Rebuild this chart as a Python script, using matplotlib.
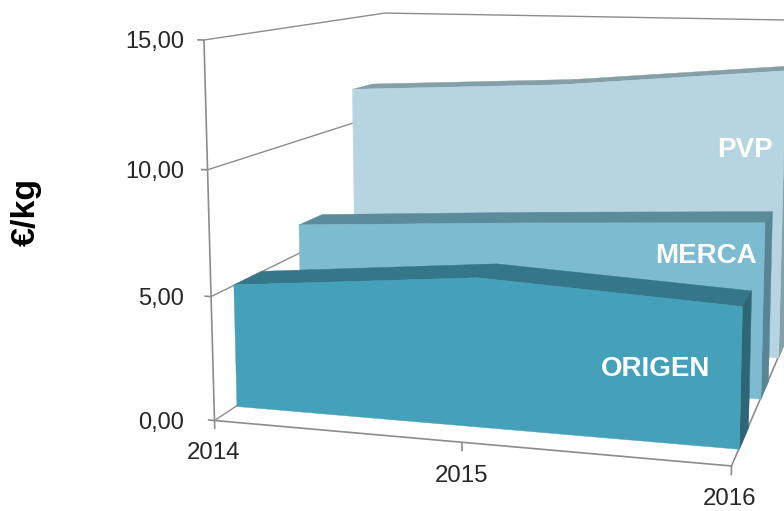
import numpy as np
import matplotlib
matplotlib.use("Agg")
import matplotlib.pyplot as plt
from mpl_toolkits.mplot3d.art3d import Poly3DCollection

plt.rcParams['font.family'] = ['Liberation Sans', 'DejaVu Sans']

years = ['2014', '2015', '2016']
series_names = ['ORIGEN', 'MERCA', 'PVP']
origen = [5.05, 5.95, 5.47]
merca = [6.3, 6.9, 7.42]
pvp = [11.65, 12.15, 13.05]
value_ticks = [0, 5, 10, 15]
value_labels = ['0,00', '5,00', '10,00', '15,00']

# colours: front, top, side
colours = {
    'ORIGEN': ('#45A0BA', '#35778A', '#2F6675'),
    'MERCA': ('#7CBBD0', '#5A8C9C', '#588593'),
    'PVP': ('#B7D5E0', '#859FA9', '#869FA8'),
}
grid_colour = '#8C8C8C'
depth_total = 3.0
gap = 0.3

# camera: where the box origin lands and the three vanishing points, in pixels
origin = np.array([214.5, 420.5])
vanish_x = np.array([-5600.0, -91.0])
vanish_y = np.array([963.0, -73.0])
vanish_z = np.array([511.0, 11120.0])


def scale_for(vanish, point, span, axis):
    return (origin[axis] - point[axis]) / (point[axis] - vanish[axis]) / span


a = scale_for(vanish_x, (731.5, 466.0), 2.0, 0)
c = scale_for(vanish_z, (204.0, 40.0), 15.0, 1)
# depth scale from the top back corner of the left wall
top = np.array([204.0, 40.0])
w_top = 15 * c + 1
target = np.array([385.0, 14.0])
b = ((top[0] * w_top - target[0] * w_top)
     / (depth_total * (target[0] - vanish_y[0])))

row_u = [a * vanish_x[0], b * vanish_y[0], c * vanish_z[0], origin[0]]
row_v = [a * vanish_x[1], b * vanish_y[1], c * vanish_z[1], origin[1]]
row_w = [a, b, c, 1.0]
P = np.array([row_u, row_v, row_w])
centre = np.linalg.svd(P)[2][-1]
M = np.array([row_u, row_v, centre, row_w])

fig = plt.figure(figsize=(7.84, 5.11), dpi=100)
ax = fig.add_axes([0, 0, 1, 1], projection='3d')
ax.set_axis_off()
ax.patch.set_alpha(0)
ax.computed_zorder = False
ax.set_autoscale_on(False)
ax.set_proj_type('ortho')
ax.get_proj = lambda: M
ax.apply_aspect = lambda position=None: None
ax.viewLim.intervalx = (0, 784)
ax.viewLim.intervaly = (511, 0)


def line3d(xs, ys, zs, width=1.0, zorder=1):
    ax.plot(xs, ys, zs, color=grid_colour, lw=width, zorder=zorder,
            solid_capstyle='butt')


# walls and floor edges
for v in value_ticks[1:]:
    line3d([0, 0], [0, depth_total], [v, v])
line3d([0, 2], [depth_total, depth_total], [15, 15])
line3d([0, 0], [0, 0], [0, 15], 1.2)
line3d([0, 2], [0, 0], [0, 0], 1.2)
line3d([2, 2], [0, depth_total], [0, 0], 1.2)
line3d([0, 0], [0, depth_total], [0, 0], 1.0)

# ticks
for v in value_ticks:
    line3d([-0.028, 0], [0, 0], [v, v], 1.2)
for i in range(3):
    line3d([i, i], [0, 0], [0, -0.35], 1.2)


def add_face(points, colour, zorder):
    poly = Poly3DCollection([points], facecolors=colour, edgecolors=colour,
                            linewidths=0.3, zorder=zorder)
    ax.add_collection3d(poly, autolim=False)


# slabs, back to front
all_values = [origen, merca, pvp]
for idx in [2, 1, 0]:
    vals = all_values[idx]
    front, topc, side = colours[series_names[idx]]
    y0 = idx + gap
    y1 = idx + 1 - gap
    z = 10 + (2 - idx) * 5
    for i in range(2):
        add_face([(i, y0, vals[i]), (i + 1, y0, vals[i + 1]),
                  (i + 1, y1, vals[i + 1]), (i, y1, vals[i])], topc, z)
    add_face([(2, y0, 0), (2, y1, 0), (2, y1, vals[2]), (2, y0, vals[2])], side, z + 1)
    add_face([(0, y0, 0)] + [(i, y0, vals[i]) for i in range(3)] + [(2, y0, 0)], front, z + 2)


# text
def pix_text(x, y, s, **kw):
    fig.text(x / 784, 1 - y / 511, s, **kw)


tick_y = [423, 299, 172, 42]
for v_lab, y in zip(value_labels, tick_y):
    pix_text(184, y, v_lab, ha='right', va='center', fontsize=17, color='#262626')
for lab, (x, y) in zip(years, [(214, 453), (461, 476), (730, 499)]):
    pix_text(x, y, lab, ha='center', va='center', fontsize=17.3, color='#262626')

pix_text(26, 212, '€/kg', rotation=90, ha='center', va='center',
         fontsize=24.5, fontweight='bold', color='black')
label_pos = [(655.5, 369), (705.5, 256), (745, 150)]
for name, (x, y) in zip(series_names, label_pos):
    pix_text(x, y, name, ha='center', va='center', fontsize=20,
             fontweight='bold', color='white')

fig.savefig('out.png', dpi=100)
